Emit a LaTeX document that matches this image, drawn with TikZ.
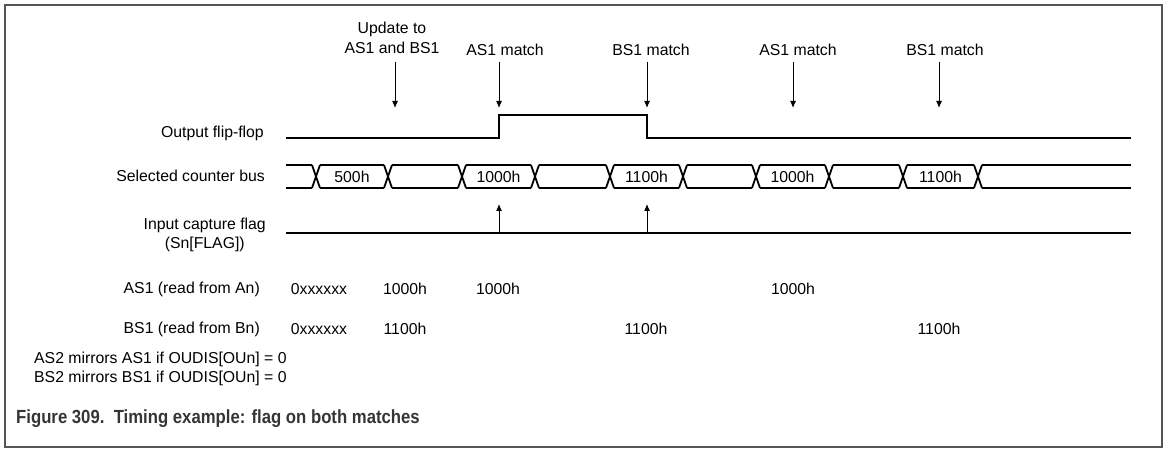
\documentclass[tikz,border=0pt]{standalone}
\usepackage{fontspec}
\setmainfont{Liberation Sans}
\newfontfamily\capfont[FakeStretch=0.88]{Liberation Sans}
\usetikzlibrary{arrows.meta}
\definecolor{framegray}{HTML}{555555}
\definecolor{capgray}{HTML}{353535}
\begin{document}
\begin{tikzpicture}[x=1pt,y=-1pt,
  txt/.style={inner sep=0pt,font=\fontsize{15.8}{19.5}\selectfont},
  lbl/.style={txt,anchor=east},
  sig/.style={line width=2pt,line join=miter},
  evarrow/.style={line width=1pt,-{Latex[length=7pt,width=6pt]}},
]
\useasboundingbox (0,0) rectangle (1173,457);
\draw[framegray,line width=2.5pt] (5,5) rectangle (1162,447);

% left labels
\node[lbl] (lff) at (264,133) {Output flip-flop};
\node[lbl] (lbus) at (265,176) {Selected counter bus};
\node[txt,align=center,anchor=east] (lflag) at (266,235) {Input capture flag\\(Sn[FLAG])};
\node[lbl] (las) at (260,289) {AS1 (read from An)};
\node[lbl] (lbs) at (260,329) {BS1 (read from Bn)};

% event labels
\node[txt,align=center] (ev0) at (392,38) {Update to\\AS1 and BS1};
\node[txt] (ev1) at (505,50) {AS1 match};
\node[txt] (ev2) at (651,50) {BS1 match};
\node[txt] (ev3) at (798,50) {AS1 match};
\node[txt] (ev4) at (945,50) {BS1 match};

\foreach \n/\x in {0/395,1/499,2/647,3/793,4/939}{
  \coordinate (ta\n) at (\x,62);
  \coordinate (tb\n) at (\x,108);
  \draw[evarrow] (ta\n) -- (tb\n);
}

% output flip-flop
\coordinate (ffs) at (286,138);
\coordinate (ffe) at (1131,138);
\draw[sig] (ffs) -- (499,138) -- (499,115) -- (647,115) -- (647,138) -- (ffe);

% selected counter bus
\def\yt{165}\def\yb{188}
\draw[sig] (286,\yt) -- (312,\yt) (286,\yb) -- (312,\yb);
\foreach \a/\b in {316/388,388/462,462/535,535/610,610/683,683/756,756/829,829/903,903/978}{
  \draw[sig] (\a+4,\yt) -- (\b-4,\yt) (\a+4,\yb) -- (\b-4,\yb);
}
\draw[sig] (982,\yt) -- (1131,\yt) (982,\yb) -- (1131,\yb);
\foreach \x in {316,388,462,535,610,683,756,829,903,978}{
  \draw[sig,line width=1.8pt] (\x-4,\yt) -- (\x+4,\yb) (\x-4,\yb) -- (\x+4,\yt);
}
\node[txt] (b1) at (352,176.5) {500h};
\node[txt] (b2) at (498.5,176.5) {1000h};
\node[txt] (b3) at (646.5,176.5) {1100h};
\node[txt] (b4) at (792.5,176.5) {1000h};
\node[txt] (b5) at (940.5,176.5) {1100h};

% input capture flag
\coordinate (fls) at (286,233);
\coordinate (fle) at (1131,233);
\draw[sig] (fls) -- (fle);
\foreach \n/\x in {1/499,2/647}{
  \coordinate (fa\n) at (\x,233);
  \coordinate (fb\n) at (\x,204);
  \draw[evarrow] (fa\n) -- (fb\n);
}

% register values
\node[txt] (a0) at (319,289) {0xxxxxx};
\node[txt] (a1) at (405,289) {1000h};
\node[txt] (a2) at (498,289) {1000h};
\node[txt] (a3) at (793,289) {1000h};
\node[txt] (bb0) at (319,329) {0xxxxxx};
\node[txt] (bb1) at (405,329) {1100h};
\node[txt] (bb2) at (646,329) {1100h};
\node[txt] (bb3) at (939,329) {1100h};

% notes
\node[txt,anchor=west,align=left] (notes) at (34,369) {AS2 mirrors AS1 if OUDIS[OUn] = 0\\BS2 mirrors BS1 if OUDIS[OUn] = 0};

% caption
\node[inner sep=0pt,anchor=west,text=capgray,font=\capfont\fontsize{19}{22}\selectfont\bfseries] (cap) at (16,419) {Figure 309.\ \ Timing example: flag on both matches};
\end{tikzpicture}
\end{document}
